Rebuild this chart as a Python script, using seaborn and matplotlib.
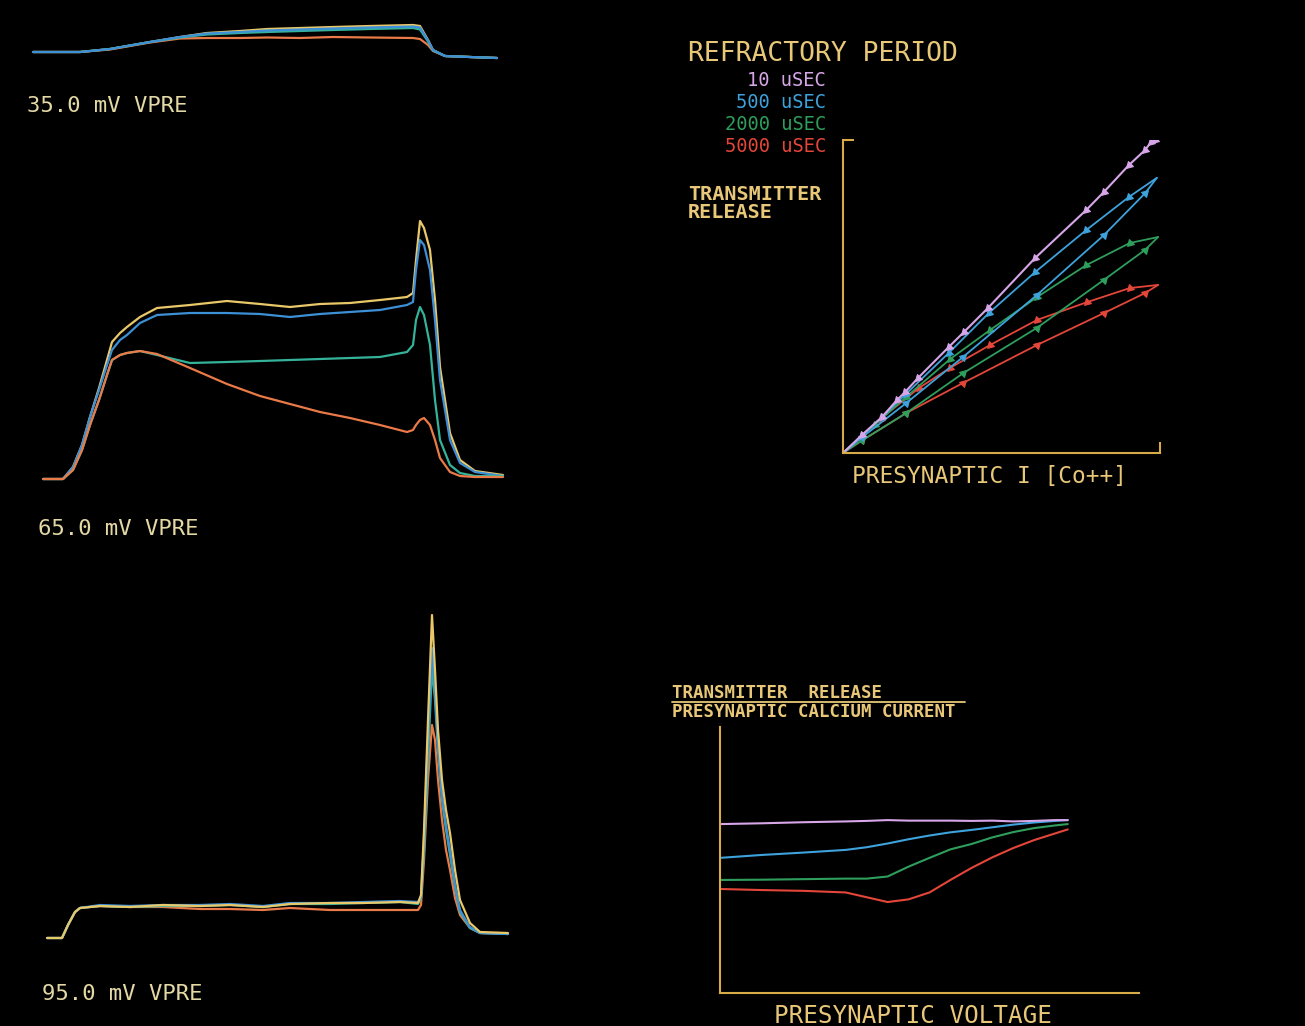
import matplotlib
matplotlib.use("Agg")
import matplotlib.pyplot as plt
import seaborn as sns

# --- left column: presynaptic current traces (time in ms, current in arb. units) ---
t_35 = [0.3, 5.0, 8.0, 12.0, 15.0, 17.7, 21.0, 23.7, 27.0, 30.3, 34.0, 38.3, 39.0, 39.8, 40.3, 41.5, 44.0, 46.7]
i35_yellow = [4.0, 4.0, 5.2, 8.0, 10.0, 11.6, 12.4, 13.2, 13.6, 14.0, 14.4, 14.8, 14.4, 8.8, 4.8, 2.4, 2.0, 1.6]
i35_blue = [4.0, 4.0, 5.2, 8.0, 10.0, 11.4, 12.0, 12.6, 13.0, 13.4, 13.8, 14.2, 13.8, 8.6, 4.8, 2.4, 2.0, 1.6]
i35_teal = [4.0, 4.0, 5.2, 8.0, 9.8, 11.0, 11.6, 12.0, 12.4, 12.8, 13.2, 13.6, 13.0, 8.2, 4.6, 2.4, 2.0, 1.6]
i35_orange = [4.0, 4.0, 5.0, 7.8, 9.4, 9.6, 9.6, 9.8, 9.6, 10.0, 9.8, 9.6, 9.2, 6.8, 4.4, 2.4, 2.0, 1.6]

t_65 = [0.3, 2.3, 3.3, 4.2, 5.0, 5.9, 6.7, 7.2, 8.0, 8.7, 10.0, 11.7, 15.0, 18.7, 22.0, 25.0,
        28.0, 31.0, 34.0, 36.7, 37.3, 37.6, 38.0, 38.4, 39.0, 39.5, 40.0, 41.0, 42.0, 43.5, 46.3]
i65_yellow = [2.4, 2.4, 7.2, 16.0, 27.2, 38.8, 50.0, 57.2, 60.8, 63.2, 67.2, 70.8, 72.0, 73.6, 72.4, 71.2,
              72.4, 72.8, 74.0, 75.2, 76.8, 90.0, 105.6, 102.8, 94.0, 74.0, 47.2, 20.8, 10.0, 5.6, 4.0]
i65_blue = [2.4, 2.4, 7.2, 16.0, 27.2, 38.0, 48.0, 54.0, 58.0, 60.0, 64.8, 68.0, 68.8, 68.8, 68.4, 67.2,
            68.4, 69.2, 70.0, 72.0, 73.2, 86.0, 98.0, 96.0, 86.0, 66.0, 42.0, 18.0, 8.8, 5.2, 3.6]
i65_teal = [2.4, 2.4, 6.0, 14.0, 24.0, 34.0, 44.0, 50.0, 52.0, 52.8, 53.6, 52.0, 48.8, 49.2, 49.6, 50.0,
            50.4, 50.8, 51.2, 53.2, 56.0, 66.0, 71.2, 68.0, 56.0, 34.0, 18.0, 8.0, 4.8, 3.6, 3.6]
i65_orange = [2.4, 2.4, 6.0, 14.0, 24.0, 34.0, 44.0, 50.0, 52.0, 52.8, 53.6, 52.4, 46.8, 40.4, 35.6, 32.4,
              29.2, 26.8, 24.0, 21.2, 22.0, 24.0, 26.0, 26.8, 24.0, 18.0, 10.8, 5.2, 3.6, 3.2, 3.2]

t_95 = [0.7, 2.2, 2.8, 3.5, 4.0, 6.0, 9.0, 12.3, 16.0, 19.0, 22.3, 25.0, 29.0, 32.3, 36.0,
        37.8, 38.1, 38.4, 38.8, 39.2, 39.5, 39.8, 40.2, 40.6, 41.0, 41.5, 42.0, 43.0, 44.0, 46.8]
i95_yellow = [2.8, 2.8, 8.0, 13.2, 14.8, 15.6, 15.2, 16.0, 15.6, 16.0, 15.2, 16.4, 16.8, 16.8, 17.2,
              16.8, 20.0, 46.0, 90.0, 132.0, 110.0, 86.0, 66.0, 54.0, 44.8, 30.0, 18.0, 8.8, 5.2, 4.8]
i95_blue = [2.8, 2.8, 8.0, 13.2, 14.8, 16.0, 15.6, 16.0, 16.0, 16.4, 15.6, 16.8, 16.8, 17.2, 17.6,
            17.2, 19.2, 42.0, 82.0, 118.8, 102.0, 80.0, 60.0, 48.0, 38.0, 24.0, 14.0, 7.2, 4.8, 4.4]
i95_teal = [2.8, 2.8, 8.0, 13.2, 14.8, 15.6, 15.2, 15.6, 15.6, 16.0, 15.2, 16.4, 16.4, 16.8, 17.2,
            16.4, 18.8, 38.0, 74.0, 110.8, 98.0, 78.0, 58.0, 46.0, 36.0, 22.8, 13.2, 6.8, 4.8, 4.4]
i95_orange = [2.8, 2.8, 8.0, 13.2, 14.8, 15.6, 15.2, 15.2, 14.4, 14.4, 14.0, 14.8, 14.0, 14.0, 14.0,
              14.0, 16.0, 34.0, 66.0, 88.0, 82.0, 66.0, 50.0, 38.0, 30.0, 18.8, 12.0, 6.8, 4.8, 4.4]

# --- top right: transmitter release vs presynaptic I (normalised) ---
purple_I = [0, 0.06, 0.123, 0.17, 0.196, 0.237, 0.334, 0.382, 0.457, 0.606, 0.767, 0.823, 0.902, 0.953, 0.972, 0.985]
purple_R = [0, 0.058, 0.115, 0.169, 0.195, 0.24, 0.339, 0.387, 0.463, 0.623, 0.776, 0.834, 0.92, 0.968, 0.994, 1.0]
blue_I_up = [0, 0.06, 0.2, 0.379, 0.612, 0.823, 0.953, 0.99]
blue_R_up = [0, 0.05, 0.16, 0.307, 0.505, 0.696, 0.83, 0.879]
blue_I_down = [0.99, 0.902, 0.767, 0.606, 0.46, 0.334, 0.2, 0.123, 0.06, 0]
blue_R_down = [0.879, 0.818, 0.712, 0.578, 0.447, 0.32, 0.19, 0.115, 0.055, 0]
green_I_up = [0, 0.06, 0.2, 0.379, 0.612, 0.823, 0.953, 0.994]
green_R_up = [0, 0.04, 0.128, 0.255, 0.40, 0.553, 0.649, 0.69]
green_I_down = [0.994, 0.905, 0.767, 0.612, 0.464, 0.338, 0.2, 0.1, 0]
green_R_down = [0.69, 0.671, 0.60, 0.498, 0.393, 0.30, 0.18, 0.09, 0]
red_I_up = [0, 0.06, 0.2, 0.379, 0.612, 0.823, 0.953, 0.994]
red_R_up = [0, 0.04, 0.128, 0.224, 0.345, 0.447, 0.511, 0.537]
red_I_down = [0.994, 0.905, 0.77, 0.612, 0.464, 0.338, 0.24, 0.12, 0]
red_R_down = [0.537, 0.527, 0.482, 0.425, 0.345, 0.272, 0.208, 0.11, 0]

# --- bottom right: release / calcium current vs presynaptic voltage ---
v_pre = [0, 10, 20, 30, 35, 40, 45, 50, 55, 60, 65, 70, 75, 80, 83]
ratio_purple = [.635, .638, .642, .645, .647, .650, .648, .648, .648, .647, .648, .645, .647, .650, .650]
ratio_blue = [.508, .519, .528, .538, .548, .562, .578, .592, .604, .613, .623, .633, .641, .647, .650]
ratio_green = [.425, .426, .428, .430, .430, .438, .475, .508, .540, .560, .585, .605, .620, .630, .635]
ratio_red = [.391, .387, .384, .378, .360, .342, .352, .378, .425, .470, .510, .545, .575, .600, .615]

legend_labels = ["10 uSEC", "500 uSEC", "2000 uSEC", "5000 uSEC"]

# colours
BG = "black"
GOLD = "#d9aa48"
TXT = "#e8c878"
LBL = "#e4d8a4"
c_yel, c_blu, c_tea, c_ora = "#e9c86a", "#3d8fd6", "#35b39a", "#ea7a48"
c_pur, c_b2, c_grn, c_red = "#d7a6e8", "#3ea2dc", "#2f9e5c", "#e4463a"

sns.set_style("dark", {"axes.facecolor": BG, "figure.facecolor": BG})
plt.rcParams["font.family"] = ["DejaVu Sans Mono"]

W, H = 1305, 1026
fig = plt.figure(figsize=(W / 100, H / 100), dpi=100, facecolor=BG)


def box(x0, y0, x1, y1):
    return [x0 / W, 1 - y1 / H, (x1 - x0) / W, (y1 - y0) / H]


def label(xp, yp, s, size, color, ha="left", weight="normal"):
    fig.text(xp / W, 1 - yp / H, s, fontsize=size, color=color, ha=ha,
             va="baseline", fontweight=weight)


# left column traces
panels = [
    (box(30, 12, 500, 62), (0, 47), (0, 20), t_35,
     [(i35_yellow, c_yel), (i35_orange, c_ora), (i35_teal, c_tea), (i35_blue, c_blu)]),
    (box(40, 210, 510, 485), (0, 47), (0, 110), t_65,
     [(i65_yellow, c_yel), (i65_blue, c_blu), (i65_teal, c_tea), (i65_orange, c_ora)]),
    (box(40, 600, 515, 945), (0, 47.5), (0, 138), t_95,
     [(i95_orange, c_ora), (i95_teal, c_tea), (i95_blue, c_blu), (i95_yellow, c_yel)]),
]
for rect, xl, yl, t, traces in panels:
    ax = fig.add_axes(rect)
    for tr, col in traces:
        sns.lineplot(x=t, y=tr, color=col, lw=1.6, ax=ax)
    ax.set_xlim(*xl)
    ax.set_ylim(*yl)
    ax.set_axis_off()

label(27, 112, "35.0 mV VPRE", 16, LBL)
label(38, 535, "65.0 mV VPRE", 16, LBL)
label(42, 1000, "95.0 mV VPRE", 16, LBL)

# top right: release vs presynaptic current
ax2 = fig.add_axes(box(843, 140, 1160, 453))
mk_up, mk_down = (3, 0, -45), (3, 0, 135)
loops = [
    (c_red, red_I_up, red_R_up, red_I_down, red_R_down),
    (c_grn, green_I_up, green_R_up, green_I_down, green_R_down),
    (c_b2, blue_I_up, blue_R_up, blue_I_down, blue_R_down),
]
for col, iu, ru, idn, rdn in loops:
    sns.lineplot(x=iu, y=ru, sort=False, estimator=None, color=col, lw=1.3, ax=ax2,
                 marker=mk_up, markersize=6, markeredgecolor=col, markevery=slice(1, -1))
    sns.lineplot(x=idn, y=rdn, sort=False, estimator=None, color=col, lw=1.3, ax=ax2,
                 marker=mk_down, markersize=6, markeredgecolor=col, markevery=slice(1, -1))
sns.lineplot(x=purple_I, y=purple_R, sort=False, estimator=None, color=c_pur, lw=1.5, ax=ax2,
             marker=mk_down, markersize=6, markeredgecolor=c_pur, markevery=slice(1, None))
ax2.set_xlim(0, 1)
ax2.set_ylim(0, 1)
ax2.set_xticks([1.0])
ax2.set_yticks([1.0])
ax2.tick_params(direction="in", length=8, width=1.5, color=GOLD, labelbottom=False,
                labelleft=False, bottom=True, left=True, top=False, right=False)
for s in ["top", "right"]:
    ax2.spines[s].set_visible(False)
for s in ["left", "bottom"]:
    ax2.spines[s].set_visible(True)
    ax2.spines[s].set_color(GOLD)
    ax2.spines[s].set_linewidth(1.5)
ax2.set_xlabel("")
ax2.set_ylabel("")
ax2.grid(False)

label(688, 61, "REFRACTORY PERIOD", 19, TXT)
for lab, col, yb in zip(legend_labels, [c_pur, c_b2, c_grn, c_red], [86, 108, 130, 152]):
    label(826, yb, lab, 13.5, col, ha="right")
label(688, 200, "TRANSMITTER", 14.5, TXT, weight="bold")
label(688, 218, "RELEASE", 14.5, TXT, weight="bold")
label(852, 483, "PRESYNAPTIC I [Co++]", 16.5, TXT)

# bottom right: ratio vs presynaptic voltage
ax3 = fig.add_axes(box(720, 727, 1139, 993))
for col, r in [(c_red, ratio_red), (c_grn, ratio_green), (c_b2, ratio_blue), (c_pur, ratio_purple)]:
    sns.lineplot(x=v_pre, y=r, color=col, lw=1.5, ax=ax3)
ax3.set_xlim(0, 100)
ax3.set_ylim(0, 1)
ax3.set_xticks([])
ax3.set_yticks([])
for s in ["top", "right"]:
    ax3.spines[s].set_visible(False)
for s in ["left", "bottom"]:
    ax3.spines[s].set_visible(True)
    ax3.spines[s].set_color(GOLD)
    ax3.spines[s].set_linewidth(1.5)
ax3.grid(False)

label(672, 698, "TRANSMITTER  RELEASE", 12.5, TXT, weight="bold")
fig.add_artist(plt.Line2D([672 / W, 965 / W], [1 - 702 / H, 1 - 702 / H], color=TXT, lw=1.3))
label(672, 717, "PRESYNAPTIC CALCIUM CURRENT", 12.5, TXT, weight="bold")
label(913, 1023, "PRESYNAPTIC VOLTAGE", 17.5, TXT, ha="center")

fig.savefig("out.png", dpi=100, facecolor=BG)
